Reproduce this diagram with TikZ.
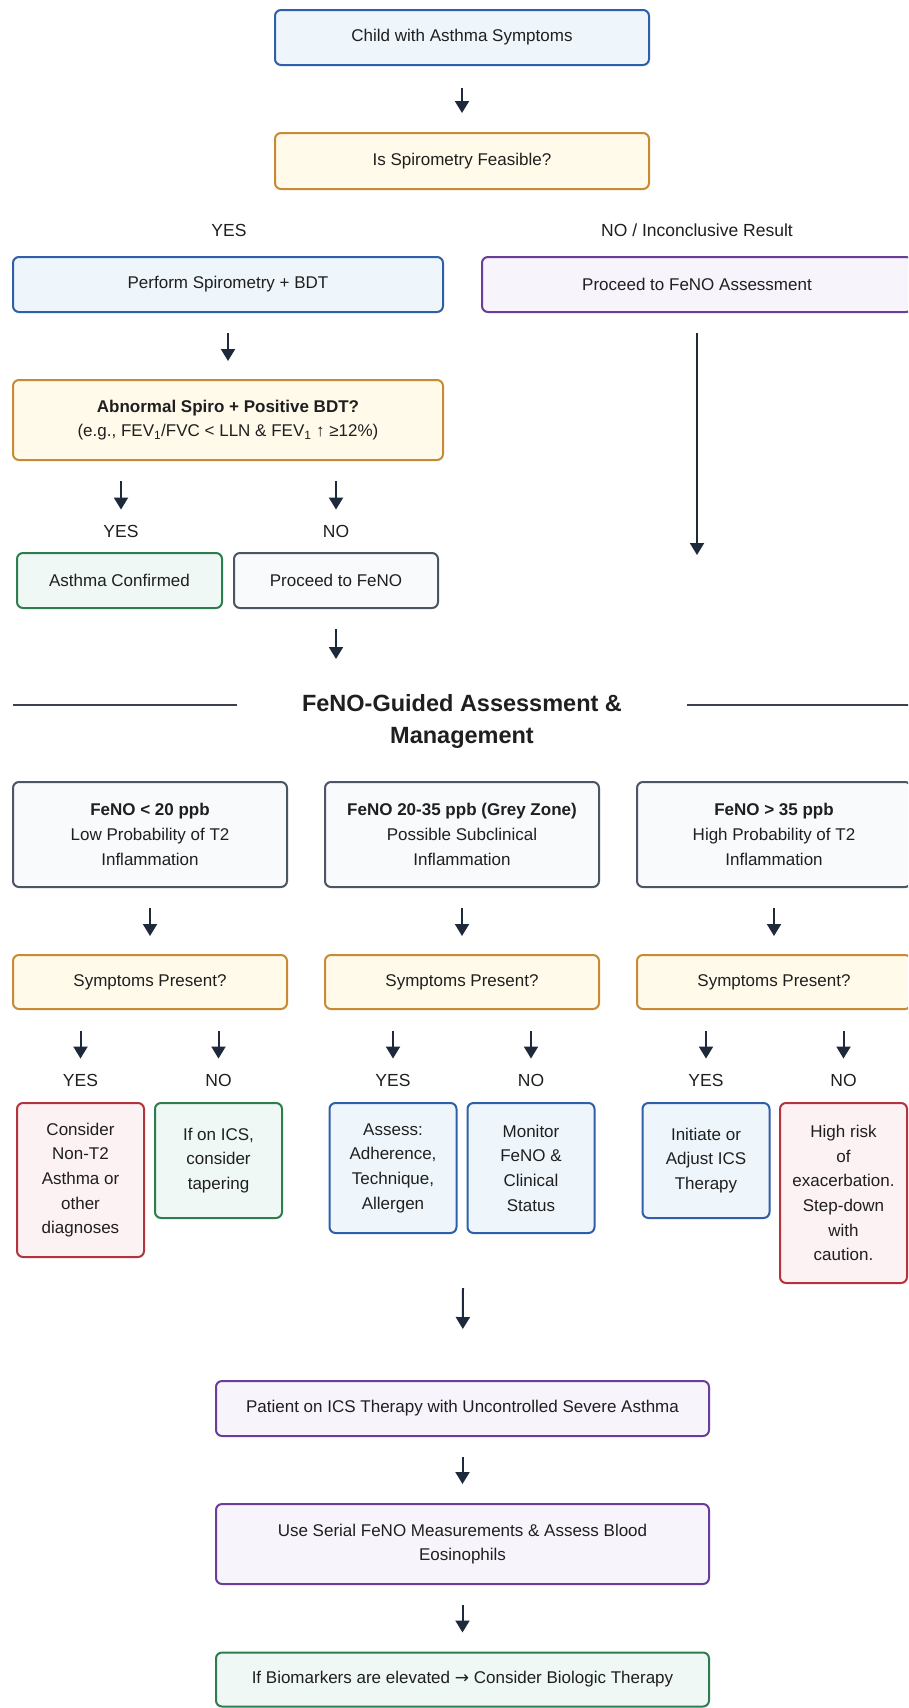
\documentclass[tikz,border=0pt]{standalone}
\usepackage{fontspec}
\setmainfont{Liberation Sans}
\newfontfamily\symfont{DejaVu Sans}
\usetikzlibrary{arrows.meta}
\definecolor{txt}{HTML}{1F1F1F}
\definecolor{arrc}{HTML}{1E293B}
\definecolor{blueB}{HTML}{2F5FA8}\definecolor{blueF}{HTML}{EEF6FC}
\definecolor{orB}{HTML}{C98A35}\definecolor{orF}{HTML}{FFFAEA}
\definecolor{puB}{HTML}{6A3D9A}\definecolor{puF}{HTML}{F7F5FB}
\definecolor{grB}{HTML}{2E7D4F}\definecolor{grF}{HTML}{EFF8F4}
\definecolor{slB}{HTML}{4B5563}\definecolor{slF}{HTML}{F9FAFB}
\definecolor{rdB}{HTML}{B3343C}\definecolor{rdF}{HTML}{FDF2F3}
\definecolor{lineC}{HTML}{3B4150}
\newcommand\myfs{\fontsize{17}{24.7}\selectfont}
\begin{document}
\begin{tikzpicture}[x=1pt,y=-1pt,
  box/.style={draw,rounded corners=6pt,line width=2pt,align=center,inner sep=0pt,anchor=center,font=\myfs,text=txt},
  bluebox/.style={draw=blueB,fill=blueF},
  orbox/.style={draw=orB,fill=orF},
  pubox/.style={draw=puB,fill=puF},
  grbox/.style={draw=grB,fill=grF},
  slbox/.style={draw=slB,fill=slF},
  rdbox/.style={draw=rdB,fill=rdF},
  lbl/.style={inner sep=0pt,anchor=center,font=\fontsize{17.5}{22}\selectfont,text=txt,text height=12.5pt,text depth=0pt},
  arr/.style={draw=arrc,line width=2pt,-{Triangle[length=12pt,width=14pt]}},
  tline/.style={draw=lineC,line width=2pt},
  ttl/.style={align=center,inner sep=0pt,font=\fontsize{23.5}{32}\selectfont\bfseries,text=txt}
]
\useasboundingbox (0,0) rectangle (908,1708);
\clip (0,0) rectangle (908,1708);
\fill[white] (0,0) rectangle (908,1708);

% top part
\node[box,bluebox,minimum width=374pt,minimum height=55pt] (child) at (462,37.5) {Child with Asthma Symptoms};
\node[box,orbox,minimum width=374pt,minimum height=56pt] (feas) at (462,161) {Is Spirometry Feasible?};
\node[lbl] (yes0) at (229,230) {YES};
\node[lbl] (no0) at (697,230) {NO / Inconclusive Result};
\node[box,bluebox,minimum width=430pt,minimum height=55pt] (perf) at (228,284.5) {Perform Spirometry + BDT};
\node[box,pubox,minimum width=430pt,minimum height=55pt] (procA) at (697,284.5) {Proceed to FeNO Assessment};
\coordinate (rEnd) at (697,555);
\node[box,orbox,minimum width=430pt,minimum height=80pt] (abn) at (228,420) {\textbf{Abnormal Spiro + Positive BDT?}\\(e.g., FEV\textsubscript{1}/FVC < LLN \& FEV\textsubscript{1} ↑ ≥12\%)};
\node[lbl] (yes1) at (121,531) {YES};
\node[lbl] (no1) at (336,531) {NO};
\node[box,grbox,minimum width=205pt,minimum height=55pt] (conf) at (119.5,580.5) {Asthma Confirmed};
\node[box,slbox,minimum width=204pt,minimum height=55pt] (pfeno) at (336,580.5) {Proceed to FeNO};
\coordinate (pEnd) at (336,659);

\draw[arr,shorten <=22pt,shorten >=19pt] (child) -- (feas);
\draw[arr,shorten <=20pt,shorten >=18pt] (perf) -- (abn);
\draw[arr,shorten <=20pt] (procA) -- (rEnd);
\draw[arr,shorten <=20pt,shorten >=15pt] (abn.south -| yes1) -- (yes1);
\draw[arr,shorten <=20pt,shorten >=15pt] (abn.south -| no1) -- (no1);
\draw[arr,shorten <=20pt] (pfeno) -- (pEnd);

% section title
\draw[tline] (13,705) -- (237,705);
\draw[tline] (687,705) -- (920,705);
\node[ttl] (title) at (462,721) {FeNO-Guided Assessment \&\\Management};

% FeNO range boxes
\node[box,slbox,minimum width=274pt,minimum height=105pt] (f1) at (150,834.5) {\textbf{FeNO < 20 ppb}\\Low Probability of T2\\Inflammation};
\node[box,slbox,minimum width=274pt,minimum height=105pt] (f2) at (462,834.5) {\textbf{FeNO 20-35 ppb (Grey Zone)}\\Possible Subclinical\\Inflammation};
\node[box,slbox,minimum width=274pt,minimum height=105pt] (f3) at (774,834.5) {\textbf{FeNO > 35 ppb}\\High Probability of T2\\Inflammation};

\node[box,orbox,minimum width=274pt,minimum height=54pt] (s1) at (150,982) {Symptoms Present?};
\node[box,orbox,minimum width=274pt,minimum height=54pt] (s2) at (462,982) {Symptoms Present?};
\node[box,orbox,minimum width=274pt,minimum height=54pt] (s3) at (774,982) {Symptoms Present?};

\draw[arr,shorten <=20pt,shorten >=18pt] (f1) -- (s1);
\draw[arr,shorten <=20pt,shorten >=18pt] (f2) -- (s2);
\draw[arr,shorten <=20pt,shorten >=18pt] (f3) -- (s3);

\node[lbl] (y1) at (80.5,1080) {YES};
\node[lbl] (n1) at (218.5,1080) {NO};
\node[lbl] (y2) at (393,1080) {YES};
\node[lbl] (n2) at (531,1080) {NO};
\node[lbl] (y3) at (706,1080) {YES};
\node[lbl] (n3) at (843.5,1080) {NO};

\draw[arr,shorten <=21pt,shorten >=15pt] (s1.south -| y1) -- (y1);
\draw[arr,shorten <=21pt,shorten >=15pt] (s1.south -| n1) -- (n1);
\draw[arr,shorten <=21pt,shorten >=15pt] (s2.south -| y2) -- (y2);
\draw[arr,shorten <=21pt,shorten >=15pt] (s2.south -| n2) -- (n2);
\draw[arr,shorten <=21pt,shorten >=15pt] (s3.south -| y3) -- (y3);
\draw[arr,shorten <=21pt,shorten >=15pt] (s3.south -| n3) -- (n3);

\node[box,rdbox,minimum width=127pt,minimum height=154pt] (b1) at (80.5,1180) {Consider\\Non-T2\\Asthma or\\other\\diagnoses};
\node[box,grbox,minimum width=127pt,minimum height=115pt] (b2) at (218.5,1160.5) {If on ICS,\\consider\\tapering};
\node[box,bluebox,minimum width=127pt,minimum height=130pt] (b3) at (393,1168) {Assess:\\Adherence,\\Technique,\\Allergen};
\node[box,bluebox,minimum width=127pt,minimum height=130pt] (b4) at (531,1168) {Monitor\\FeNO \&\\Clinical\\Status};
\node[box,bluebox,minimum width=127pt,minimum height=115pt] (b5) at (706,1160.5) {Initiate or\\Adjust ICS\\Therapy};
\node[box,rdbox,minimum width=127pt,minimum height=180pt] (b6) at (843.5,1193) {High risk\\of\\exacerbation.\\Step-down\\with\\caution.};

% bottom part
\coordinate (bStart) at (463,1288);
\node[box,pubox,minimum width=493pt,minimum height=55pt] (pat) at (462.5,1408.5) {Patient on ICS Therapy with Uncontrolled Severe Asthma};
\node[box,pubox,minimum width=493pt,minimum height=80pt] (ser) at (462.5,1544) {Use Serial FeNO Measurements \& Assess Blood\\Eosinophils};
\node[box,grbox,minimum width=493pt,minimum height=54pt] (bio) at (462.5,1679.5) {If Biomarkers are elevated {\symfont →} Consider Biologic Therapy};

\draw[arr,shorten >=51pt] (bStart) -- (pat);
\draw[arr,shorten <=20pt,shorten >=19pt] (pat) -- (ser);
\draw[arr,shorten <=20pt,shorten >=19pt] (ser) -- (bio);
\end{tikzpicture}
\end{document}
